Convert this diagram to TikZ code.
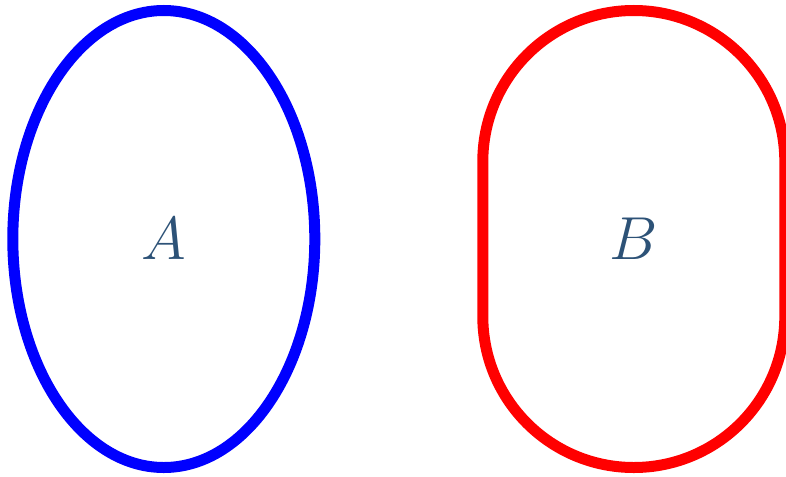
\documentclass[tikz,border=0pt]{standalone}
\usepackage{tikz}
\definecolor{labelcol}{HTML}{2D5277}
\tikzset{
  setlabel/.style={text=labelcol,font=\fontsize{15.85}{19}\selectfont},
  setline/.style={line width=3.13pt},
}
\begin{document}
\begin{tikzpicture}
    \useasboundingbox (0,0) rectangle (7.86,4.76);
    \node[setlabel] (A) at (1.638,2.37){$A$};
    \node[setlabel] (B) at (6.338,2.37){$B$};

    \draw[setline,blue] (A) ellipse [x radius=1.51cm,y radius=2.285cm];
    \draw[setline,red,rounded corners=1.51cm] (4.828,0.085) rectangle (7.848,4.655);
  \end{tikzpicture}
\end{document}
